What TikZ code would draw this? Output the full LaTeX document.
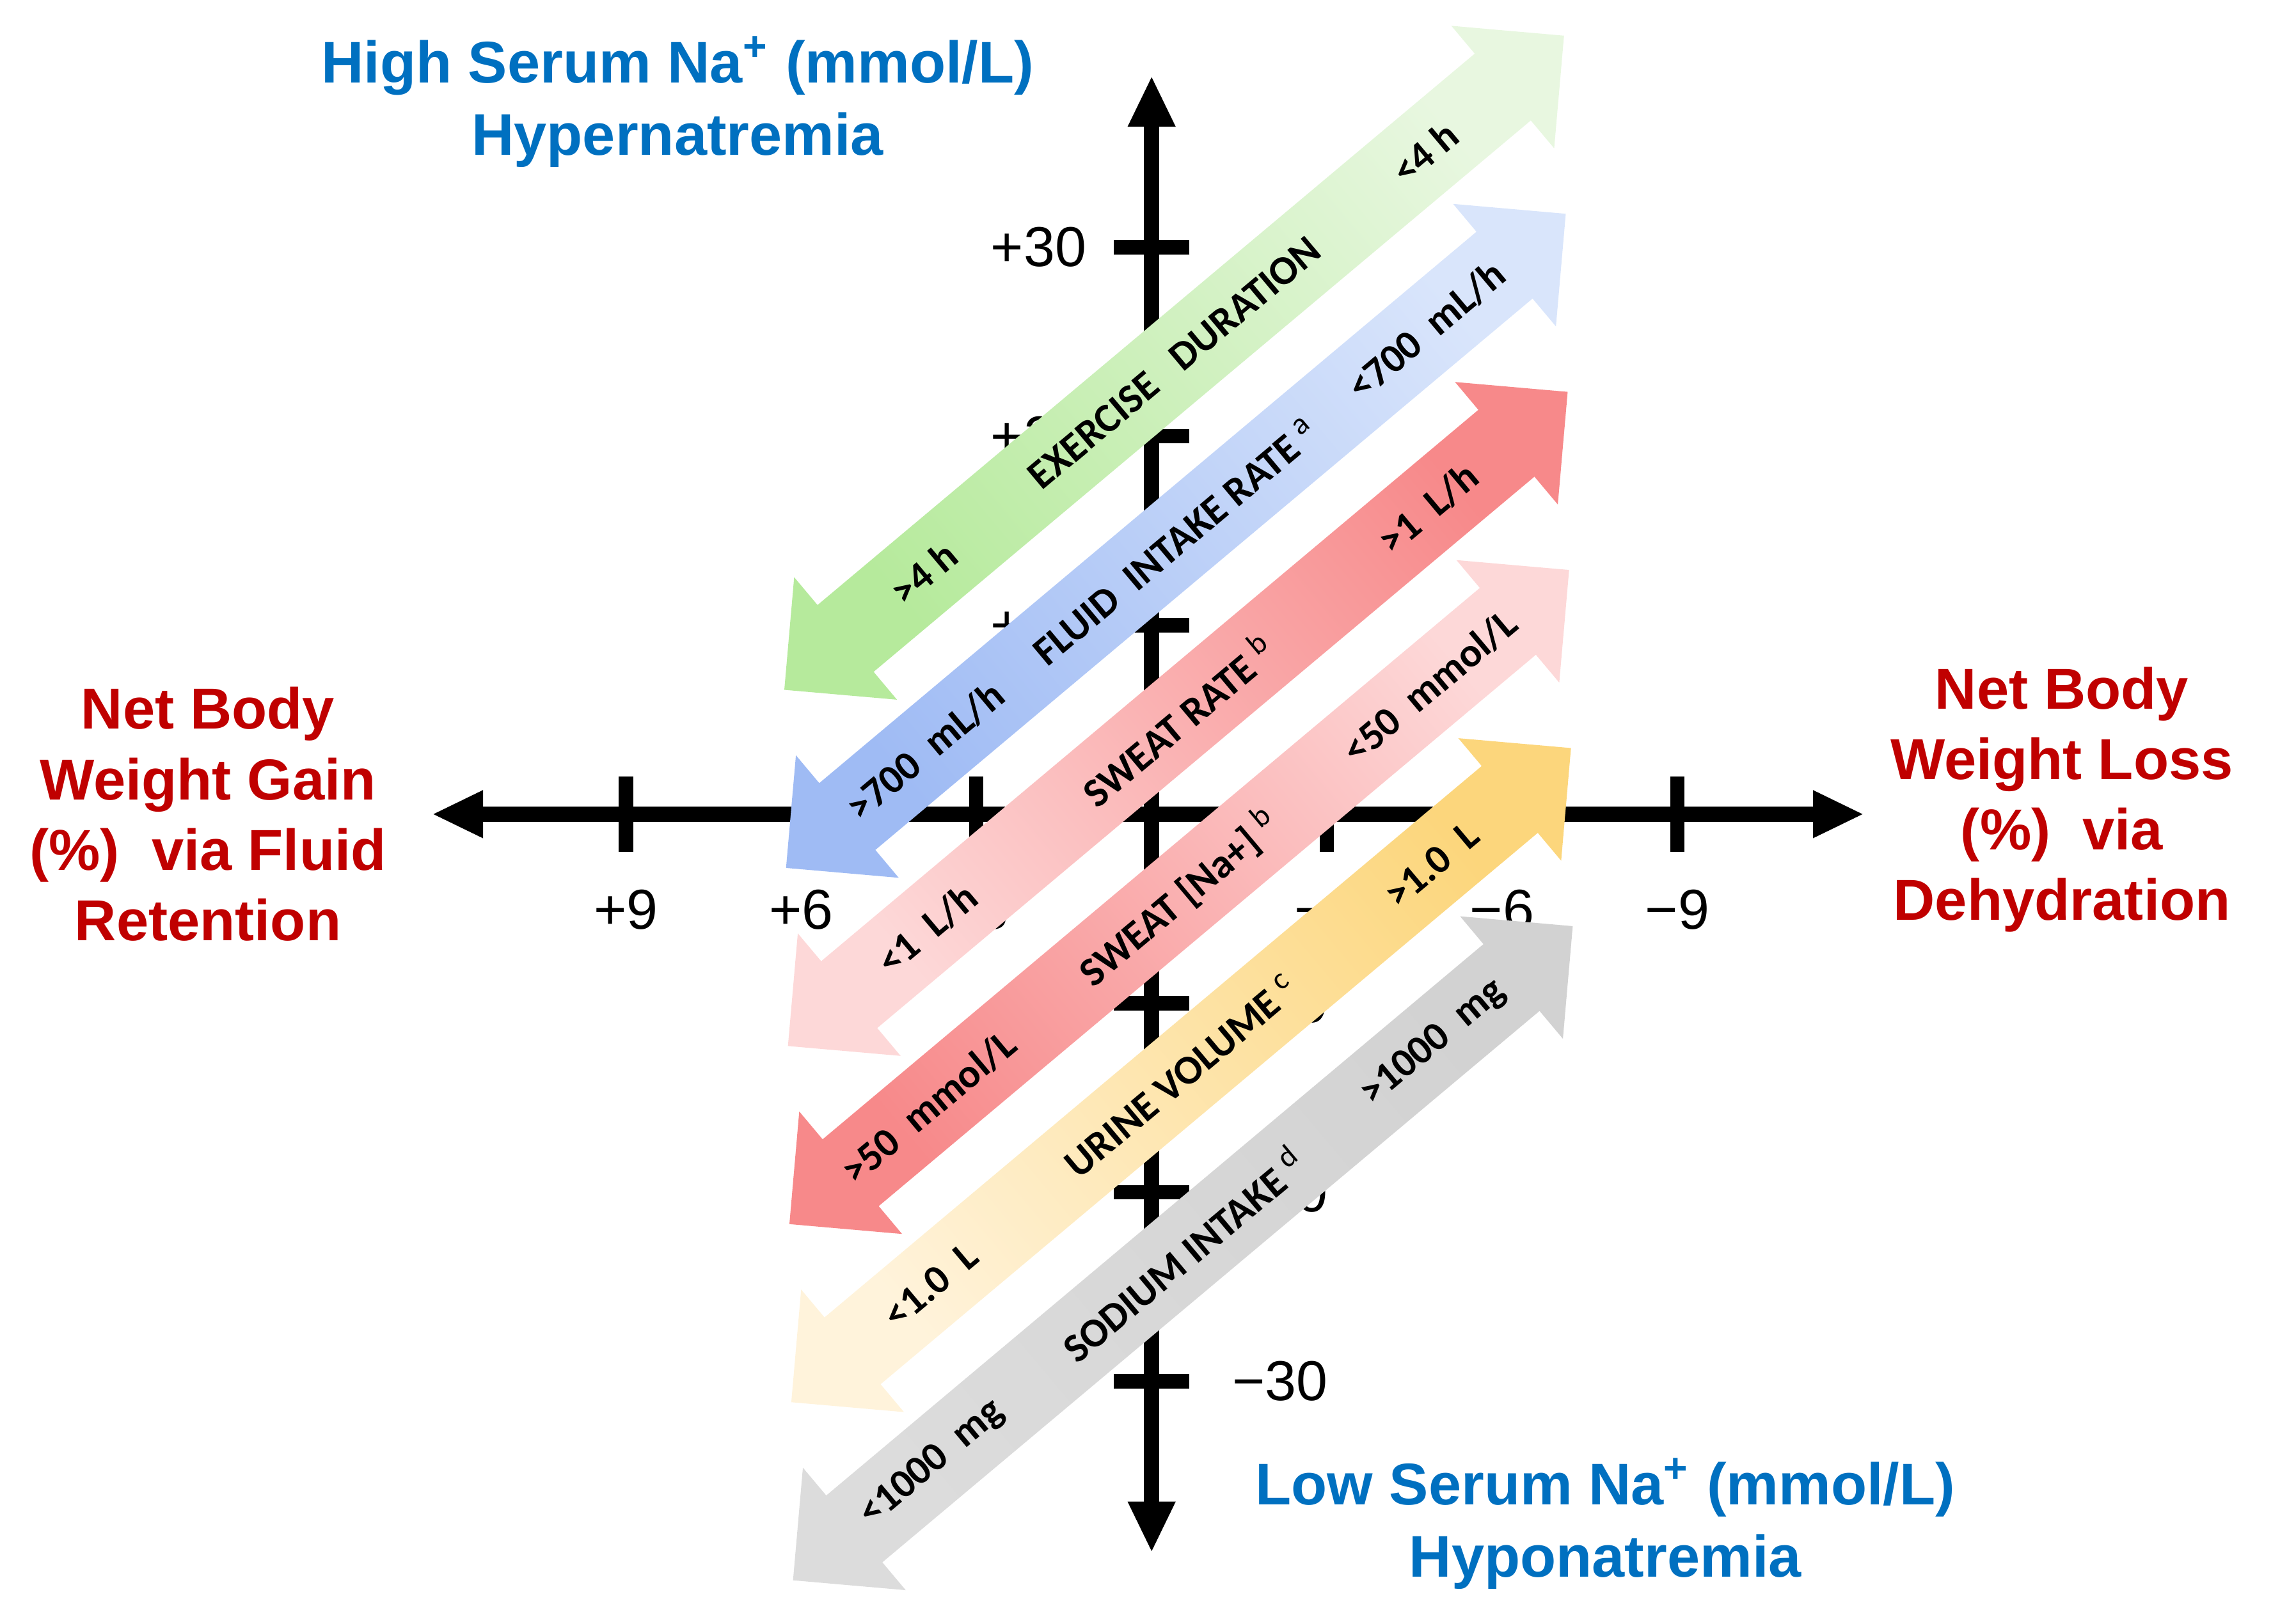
\documentclass[tikz,border=0pt]{standalone}
\usepackage{fontspec}
\setmainfont{Liberation Sans}
\newfontfamily\bandfont{Carlito}
\usetikzlibrary{arrows.meta,positioning}

\definecolor{hiblue}{HTML}{0070C0}
\definecolor{wtred}{HTML}{C00000}
\definecolor{greenlo}{HTML}{B6EA9C}
\definecolor{greenhi}{HTML}{E8F7E0}
\definecolor{bluelo}{HTML}{9FBBF4}
\definecolor{bluehi}{HTML}{D9E5FB}
\definecolor{redsat}{HTML}{F7898A}
\definecolor{redpale}{HTML}{FDD8D8}
\definecolor{yellowlo}{HTML}{FFF3DB}
\definecolor{yellowhi}{HTML}{FCD67C}
\definecolor{greylo}{HTML}{DCDCDC}
\definecolor{greyhi}{HTML}{D2D2D2}

\newcommand{\sodium}{Na\textsuperscript{+}}
\newcommand{\fn}[1]{\textsuperscript{\mdseries #1}}

% one shaded double arrow with its three labels
\newcommand{\band}[7]{%
  \begin{scope}[shift={#2}, rotate=40]
    \path[bottom color=#3, top color=#4, shading angle=-50]
      (-350,0) -- (-295,-55) -- (-295,-30) -- (295,-30) -- (295,-55) -- (350,0)
      -- (295,55) -- (295,30) -- (-295,30) -- (-295,55) -- cycle;
    \node[bandtext] (#1lo) at (-225,0) {#5};
    \node[bandtext] (#1) at (0,0) {#6};
    \node[bandtext] (#1hi) at (225,0) {#7};
  \end{scope}}

\begin{document}
\begin{tikzpicture}[x=0.01cm, y=-0.01cm,
  axis/.style={line width=3pt, {Triangle[length=10pt,width=8.6pt]}-{Triangle[length=10pt,width=8.6pt]}},
  tick/.style={line width=2.8pt},
  ticklabel/.style={font=\fontsize{11pt}{13pt}\selectfont, inner sep=0pt},
  bandtext/.style={font=\bandfont\bfseries\fontsize{8pt}{9pt}\selectfont, rotate=40, inner sep=0pt},
  blue title/.style={text=hiblue, font=\bfseries\fontsize{11.5pt}{14.2pt}\selectfont, align=center},
  red title/.style={text=wtred, font=\bfseries\fontsize{11.3pt}{13.8pt}\selectfont, align=center}]
\useasboundingbox (0,0) rectangle (1568,1117);

	\coordinate (west) at (297,560);
	\coordinate (east) at (1282,560);
	\coordinate (north) at (792,52);
	\coordinate (south) at (792,1068);
	\draw[axis] (west) -- (east);
	\draw[axis] (south) -- (north);

	\draw[tick] (430.5,534) -- (430.5,586) node[ticklabel, below=6pt] (p9) {+9};
	\draw[tick] (551,534) -- (551,586) node[ticklabel, below=6pt] (p6) {+6};
	\draw[tick] (671.5,534) -- (671.5,586) node[ticklabel, below=6pt] (p3) {+3};
	\draw[tick] (912.5,534) -- (912.5,586) node[ticklabel, below=6pt] (m3) {−3};
	\draw[tick] (1033,534) -- (1033,586) node[ticklabel, below=6pt] (m6) {−6};
	\draw[tick] (1153.5,534) -- (1153.5,586) node[ticklabel, below=6pt] (m9) {−9};
	\draw[tick] (818,170) -- (766,170) node[ticklabel, left=4pt] (p30) {+30};
	\draw[tick] (818,300) -- (766,300) node[ticklabel, left=4pt] (p20) {+20};
	\draw[tick] (818,430) -- (766,430) node[ticklabel, left=4pt] (p10) {+10};
	\draw[tick] (766,690) -- (818,690) node[ticklabel, right=7pt] (m10) {−10};
	\draw[tick] (766,820) -- (818,820) node[ticklabel, right=7pt] (m20) {−20};
	\draw[tick] (766,950) -- (818,950) node[ticklabel, right=7pt] (m30) {−30};

	\band{exdur}{(807.5,249.5)}{greenlo}{greenhi}{>4~h}{EXERCISE~~~DURATION}{<4~h}
	\band{fluid}{(808.7,372)}{bluelo}{bluehi}{>700~~mL/h}{FLUID~~INTAKE RATE~\fn{a}}{<700~~mL/h}
	\band{swrate}{(810,494.5)}{redpale}{redsat}{<1~~L/h}{SWEAT RATE~\fn{b}}{>1~~L/h}
	\band{swna}{(811,617)}{redsat}{redpale}{>50~~mmol/L}{SWEAT [Na+]~\fn{b}}{<50~~mmol/L}
	\band{urine}{(812.3,739.5)}{yellowlo}{yellowhi}{<1.0~~L}{URINE VOLUME~\fn{c}}{>1.0~~L}
	\band{salt}{(813.5,862)}{greylo}{greyhi}{<1000~~mg}{SODIUM INTAKE~\fn{d}}{>1000~~mg}

	\node[blue title] (hyper) at (466,70) {High Serum \sodium{} (mmol/L)\\Hypernatremia};
	\node[blue title] (hypo) at (1104,1048) {Low Serum \sodium{} (mmol/L)\\Hyponatremia};
	\node[red title] (gain) at (143,560) {Net Body\\Weight Gain\\(\%)~~via Fluid\\Retention};
	\node[red title] (loss) at (1418,550) {Net Body\\Weight Loss\\(\%)~~via\\Dehydration};
\end{tikzpicture}
\end{document}
